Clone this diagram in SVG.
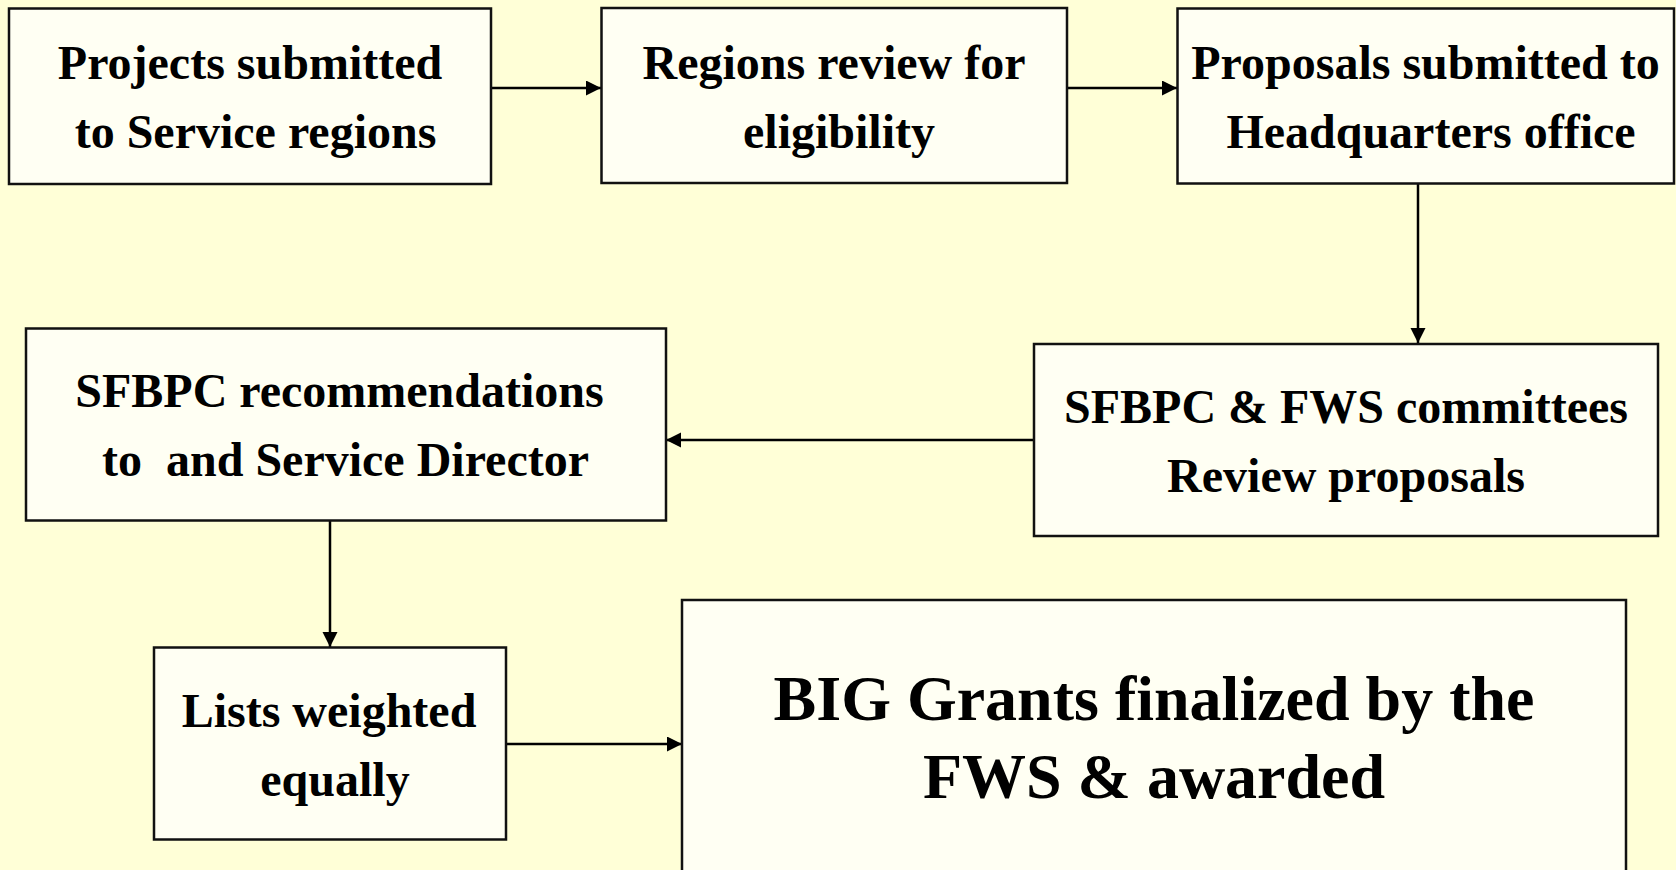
<svg xmlns="http://www.w3.org/2000/svg" width="1676" height="870" viewBox="0 0 1676 870">
  <style>
    .box { fill: #FFFFF3; stroke: #111; stroke-width: 2.5; }
    .t { font-family: "Liberation Serif", "Times New Roman", serif; font-weight: bold; font-size: 48px; fill: #000; text-anchor: middle; }
    .big { font-size: 64px; }
    .c { stroke: #000; stroke-width: 2.5; fill: none; marker-end: url(#arr); }
  </style>
  <defs>
    <marker id="arr" markerUnits="userSpaceOnUse" markerWidth="16" markerHeight="16" refX="15" refY="7.5" orient="auto">
      <path d="M0,0 L15,7.5 L0,15 Z" fill="#000"/>
    </marker>
  </defs>
  <rect x="0" y="0" width="1676" height="870" fill="#FFFFD7"/>

  <g id="connectors">
    <line class="c" x1="491" y1="88" x2="601" y2="88"/>
    <line class="c" x1="1067" y1="88" x2="1177" y2="88"/>
    <line class="c" x1="1418" y1="184" x2="1418" y2="343"/>
    <line class="c" x1="1034" y1="440" x2="666" y2="440"/>
    <line class="c" x1="330" y1="520" x2="330" y2="647"/>
    <line class="c" x1="506" y1="744" x2="682" y2="744"/>
  </g>

  <g id="n1">
    <rect class="box" x="9" y="8.5" width="482" height="175.5"/>
    <text class="t" x="250" y="79">Projects submitted</text>
    <text class="t" x="255.5" y="148">to Service regions</text>
  </g>
  <g id="n2">
    <rect class="box" x="601.5" y="8" width="465.5" height="175"/>
    <text class="t" x="834" y="79">Regions review for</text>
    <text class="t" x="839" y="148">eligibility</text>
  </g>
  <g id="n3">
    <rect class="box" x="1177.5" y="8.5" width="496.5" height="175"/>
    <text class="t" x="1425.5" y="79">Proposals submitted to</text>
    <text class="t" x="1431" y="148">Headquarters office</text>
  </g>
  <g id="n4">
    <rect class="box" x="1034" y="344" width="624" height="192"/>
    <text class="t" x="1346" y="423">SFBPC &amp; FWS committees</text>
    <text class="t" x="1346" y="492">Review proposals</text>
  </g>
  <g id="n5">
    <rect class="box" x="26" y="328.5" width="640" height="192"/>
    <text class="t" x="339.5" y="407">SFBPC recommendations</text>
    <text class="t" x="345.5" y="476" xml:space="preserve">to  and Service Director</text>
  </g>
  <g id="n6">
    <rect class="box" x="154" y="647.5" width="352" height="192"/>
    <text class="t" x="329" y="727">Lists weighted</text>
    <text class="t" x="335" y="796">equally</text>
  </g>
  <g id="n7">
    <rect class="box" x="682" y="600" width="944" height="290"/>
    <text class="t big" x="1154" y="720">BIG Grants finalized by the</text>
    <text class="t big" x="1154" y="798">FWS &amp; awarded</text>
  </g>
</svg>
